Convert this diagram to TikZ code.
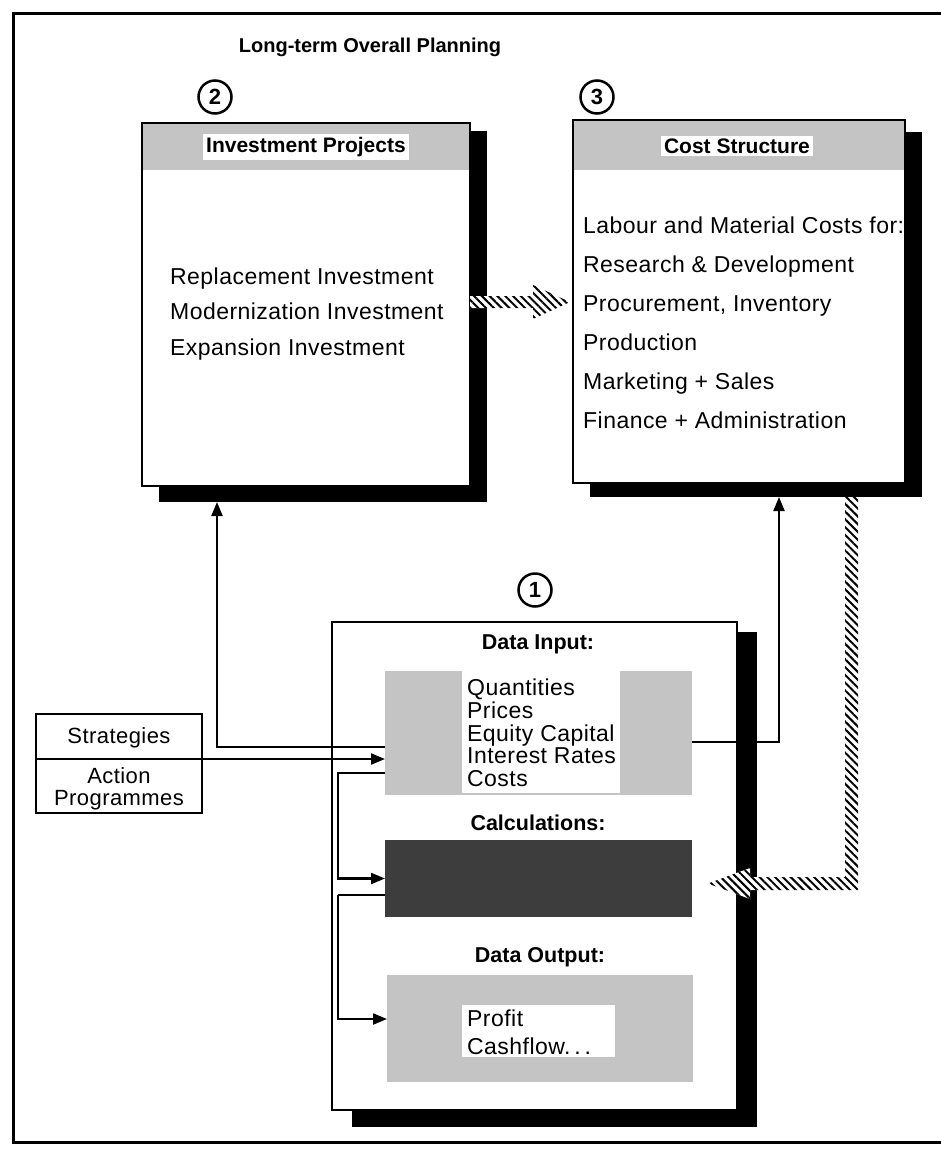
\documentclass[tikz,border=0pt]{standalone}
\usepackage{fontspec}
\setmainfont{Liberation Sans}
\newfontfamily\spacedfont[LetterSpace=2]{Liberation Sans}
\usetikzlibrary{arrows.meta,patterns.meta,calc}

\begin{document}
\begin{tikzpicture}[x=1pt,y=-1pt,
  frame/.style={line width=3pt},
  shadowbox/.style={fill=black, inner sep=0pt, outer sep=0pt, anchor=north west},
  panel/.style={fill=white, inner sep=0pt, outer sep=0pt, anchor=north west},
  outline/.style={line width=2.5pt},
  band/.style={fill=black!23, inner sep=0pt, outer sep=0pt, anchor=north west},
  darkband/.style={fill=black!76, inner sep=0pt, outer sep=0pt, anchor=north west},
  plate/.style={fill=white, inner sep=0pt, outer sep=0pt, anchor=north west},
  body/.style={inner sep=0pt, anchor=base west, font=\spacedfont\fontsize{23}{23}\selectfont},
  label/.style={inner sep=0pt, anchor=base, font=\bfseries\fontsize{21.5}{21.5}\selectfont},
  headplate/.style={fill=white, inner xsep=3pt, inner ysep=3pt, font=\bfseries\fontsize{21}{21}\selectfont},
  num/.style={circle, draw, line width=2.5pt, minimum size=33pt, inner sep=0pt, font=\bfseries\fontsize{22}{22}\selectfont},
  conn/.style={line width=2.2pt, -{Triangle[length=14pt,width=11pt]}},
  wire/.style={line width=2.2pt},
  hatched/.style={preaction={fill=white}, pattern={Lines[angle=-45,distance=5.5pt,line width=2pt]}},
]
\useasboundingbox (0,0) rectangle (941,1152);

% outer frame, open on the right
\draw[frame] (941,13) -- (13,13) -- (13,1142) -- (941,1142);
\node[label, font=\bfseries\fontsize{20}{20}\selectfont] (title) at (370,52) {Long-term Overall Planning};

% step numbers
\node[num] (n2) at (215,97) {2};
\node[num] (n3) at (597,97) {3};
\node[num] (n1) at (535,590) {1};

% ---- box 2: investment projects
\node[shadowbox, minimum width=328pt, minimum height=371pt] (s2) at (159,131) {};
\node[panel, minimum width=328pt, minimum height=363pt] (b2) at (142,123) {};
\node[band, minimum width=328pt, minimum height=47pt] (h2) at (142,123) {};
\draw[outline] (b2.north west) rectangle (b2.south east);
\node[headplate] (h2t) at (306,147) {Investment Projects};
\node[body] (r1) at (170,284) {Replacement Investment};
\node[body] (r2) at (170,319) {Modernization Investment};
\node[body] (r3) at (170,355) {Expansion Investment};

% ---- box 3: cost structure
\node[shadowbox, minimum width=332pt, minimum height=365pt] (s3) at (590,132) {};
\node[panel, minimum width=332pt, minimum height=363pt] (b3) at (573,120) {};
\node[band, minimum width=332pt, minimum height=50pt] (h3) at (573,120) {};
\draw[outline] (b3.north west) rectangle (b3.south east);
\node[headplate] (h3t) at (737,146) {Cost Structure};
\node[body] (c1) at (583,233) {Labour and Material Costs for:};
\node[body] (c2) at (583,272) {Research \& Development};
\node[body] (c3) at (583,311) {Procurement, Inventory};
\node[body] (c4) at (583,350) {Production};
\node[body] (c5) at (583,389) {Marketing + Sales};
\node[body] (c6) at (583,428) {Finance + Administration};

% ---- box 1: data processing
\node[shadowbox, minimum width=405pt, minimum height=495pt] (s1) at (352,632) {};
\node[panel, minimum width=405pt, minimum height=488pt] (b1) at (332,622) {};
\draw[outline] (b1.north west) rectangle (b1.south east);

\node[label] (lin) at (538,649) {Data Input:};
\node[band, minimum width=307pt, minimum height=124pt] (inp) at (385,671) {};
\node[plate, minimum width=158pt, minimum height=122pt] (inpw) at (462,671) {};
\node[body] (q1) at (467,695) {Quantities};
\node[body] (q2) at (467,718) {Prices};
\node[body] (q3) at (467,741) {Equity Capital};
\node[body] (q4) at (467,763) {Interest Rates};
\node[body] (q5) at (467,786) {Costs};

\node[label] (lcalc) at (538,830) {Calculations:};
\node[darkband, minimum width=307pt, minimum height=77pt] (calc) at (385,840) {};

\node[label] (lout) at (540,962) {Data Output:};
\node[band, minimum width=306pt, minimum height=107pt] (outp) at (387,975) {};
\node[plate, minimum width=153pt, minimum height=52pt] (outw) at (462,1005) {};
\node[body] (o1) at (467,1026) {Profit};
\node[body] (o2) at (467,1054) {Cashflow.\,.\,.};

% ---- strategies box
\node[panel, draw, line width=2.5pt, minimum width=166pt, minimum height=99pt] (strat) at (36,714) {};
\draw[outline] (strat.west |- 0,759) -- (strat.east |- 0,759);
\node[inner sep=0pt, anchor=base, font=\spacedfont\fontsize{22}{22}\selectfont] (st1) at (119,743) {Strategies};
\node[inner sep=0pt, anchor=base, font=\spacedfont\fontsize{22}{22}\selectfont] (st2) at (119,783) {Action};
\node[inner sep=0pt, anchor=base, font=\spacedfont\fontsize{22}{22}\selectfont] (st3) at (119,805) {Programmes};

% ---- connectors
\draw[conn] (inp.west |- 0,747) -| (s2.south -| 217,0);
\draw[conn] (strat.east |- 0,759) -- (inp.west |- 0,759);
\draw[conn] (inp.west |- 0,773) -- (338,773) |- (calc.west);
\draw[wire] (calc.west |- 0,895) -- (338,895);
\draw[conn] (338,895) |- (outp.west |- 0,1019);
\draw[conn] (inp.east |- 0,742) -| (s3.south -| 779,0);

% ---- hatched transfer arrows
\coordinate (ha) at (b2.east |- 0,302);
\coordinate (hb) at ($(b3.west |- 0,302)+(-3,0)$);
\path[hatched] ($(ha)+(0,-6)$) -- ($(hb)+(-37,-6)$) -- ($(hb)+(-37,-17)$) -- (hb)
  -- ($(hb)+(-37,17)$) -- ($(hb)+(-37,6)$) -- ($(ha)+(0,6)$) -- cycle;

\coordinate (hc) at (s3.south -| 851.5,0);
\coordinate (hd) at ($(calc.east |- 0,883.5)+(16,0)$);
\path[hatched] ($(hc)+(-6.5,0)$) -- ($(hc)+(6.5,0)$) -- ($(hc |- hd)+(6.5,6.5)$)
  -- ($(hd)+(42,6.5)$) -- ($(hd)+(42,15.5)$) -- (hd) -- ($(hd)+(42,-15.5)$)
  -- ($(hd)+(42,-6.5)$) -- ($(hc |- hd)+(-6.5,-6.5)$) -- cycle;

\end{tikzpicture}
\end{document}
